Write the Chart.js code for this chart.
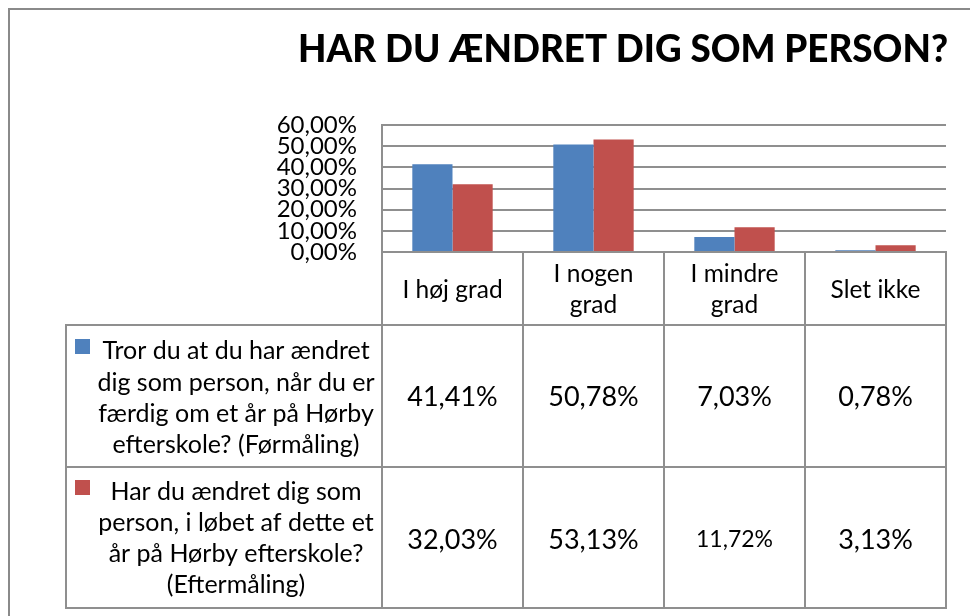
<!DOCTYPE html>
<html>
<head>
<meta charset="utf-8">
<script src="https://cdn.jsdelivr.net/npm/chart.js@4/dist/chart.umd.min.js"></script>
<style>
  html, body { margin: 0; padding: 0; background: #ffffff; }
  #wrap { width: 970px; height: 616px; }
</style>
</head>
<body>
<div id="wrap"><canvas id="c" width="970" height="616"></canvas></div>
<script>
// ---- data ----
const chartTitle = 'HAR DU ÆNDRET DIG SOM PERSON?';
const categories = [['I høj grad'], ['I nogen', 'grad'], ['I mindre', 'grad'], ['Slet ikke']];
const seriesFormaaling = [41.41, 50.78, 7.03, 0.78];
const seriesEftermaaling = [32.03, 53.13, 11.72, 3.13];
const seriesFormaalingName = ['Tror du at du har ændret', 'dig som person, når du er', 'færdig om et år på Hørby', 'efterskole? (Førmåling)'];
const seriesEftermaalingName = ['Har du ændret dig som', 'person, i løbet af dette et', 'år på Hørby efterskole?', '(Eftermåling)'];
const yTickValues = [0, 10, 20, 30, 40, 50, 60];

const FONT = 'Lato, "Open Sans", "DejaVu Sans", sans-serif';
const GRID = '#8f8f8f';
const fmt = v => v.toFixed(2).replace('.', ',') + '%';

const tablePlugin = {
  id: 'dataTable',
  afterDraw(chart) {
    const ctx = chart.ctx;
    const x = chart.scales.x;
    const area = chart.chartArea;
    const nCat = chart.data.labels.length;
    const catW = (area.right - area.left) / nCat;
    const top = area.bottom;
    const headBottom = 325, row1Bottom = 467, row2Bottom = 608, tableLeft = 66;
    ctx.save();
    // outer chart border
    ctx.strokeStyle = '#8a8a8a';
    ctx.lineWidth = 2;
    ctx.beginPath();
    ctx.moveTo(9, 616); ctx.lineTo(9, 9); ctx.lineTo(970, 9);
    ctx.stroke();

    // title
    ctx.fillStyle = '#000';
    ctx.font = '900 37px ' + FONT;
    ctx.textBaseline = 'alphabetic';
    ctx.textAlign = 'left';
    const tw = ctx.measureText(chart.options.plugins.customTitle.text).width;
    const targetW = 650;
    ctx.save();
    ctx.translate(298, 62);
    ctx.scale(targetW / tw, 1);
    ctx.fillText(chart.options.plugins.customTitle.text, 0, 0);
    ctx.restore();

    // table lines
    ctx.strokeStyle = GRID;
    ctx.lineWidth = 2;
    ctx.beginPath();
    for (let i = 0; i <= nCat; i++) {
      const bx = Math.round(area.left + i * catW);
      ctx.moveTo(bx, top); ctx.lineTo(bx, row2Bottom);
    }
    ctx.moveTo(tableLeft, headBottom); ctx.lineTo(tableLeft, row2Bottom);
    [headBottom, row1Bottom, row2Bottom].forEach(yy => {
      ctx.moveTo(tableLeft - 1, yy); ctx.lineTo(area.right + 1, yy);
    });
    ctx.stroke();

    // category headers
    ctx.fillStyle = '#000';
    ctx.textAlign = 'center';
    ctx.textBaseline = 'middle';
    ctx.font = '24.5px ' + FONT;
    chart.data.labels.forEach((lab, i) => {
      const cx = x.getPixelForValue(i);
      const lines = Array.isArray(lab) ? lab : [lab];
      if (lines.length === 1) ctx.fillText(lines[0], cx, 290);
      else { ctx.fillText(lines[0], cx, 274); ctx.fillText(lines[1], cx, 305); }
    });

    // legend rows
    const rowCenters = [397, 540];
    const nameYs = [[351, 383, 414, 445], [492, 523, 554, 585]];
    chart.data.datasets.forEach((ds, r) => {
      ctx.fillStyle = ds.backgroundColor;
      ctx.fillRect(75, nameYs[r][0] - 12, 15, 15);
      ctx.fillStyle = '#000';
      ctx.font = '25px ' + FONT;
      ds.nameLines.forEach((ln, k) => ctx.fillText(ln, 236, nameYs[r][k]));
      ds.data.forEach((v, i) => {
        const cx = x.getPixelForValue(i);
        ctx.font = (v === 11.72 ? '23px ' : '27px ') + FONT;
        ctx.fillText(fmt(v), cx, rowCenters[r]);
      });
    });
    ctx.restore();
  }
};

new Chart(document.getElementById('c'), {
  type: 'bar',
  data: {
    labels: categories,
    datasets: [
      { label: seriesFormaalingName.join(' '), nameLines: seriesFormaalingName, data: seriesFormaaling, backgroundColor: '#4f81bd' },
      { label: seriesEftermaalingName.join(' '), nameLines: seriesEftermaalingName, data: seriesEftermaaling, backgroundColor: '#c0504d' }
    ]
  },
  options: {
    responsive: false,
    animation: false,
    devicePixelRatio: 1,
    layout: { padding: { left: 0, top: 125, right: 24, bottom: 364 } },
    datasets: { bar: { categoryPercentage: 0.57, barPercentage: 1.0 } },
    plugins: {
      legend: { display: false },
      title: { display: false },
      tooltip: { enabled: false },
      customTitle: { text: chartTitle }
    },
    scales: {
      x: {
        grid: { display: false, drawTicks: false },
        border: { display: true, color: GRID, width: 2 },
        ticks: { display: false },
        afterFit(s) { s.height = 0; }
      },
      y: {
        min: 0, max: 60,
        afterBuildTicks(s) { s.ticks = yTickValues.map(v => ({ value: v })); },
        grid: { color: GRID, lineWidth: 2, drawTicks: false },
        border: { display: true, color: GRID, width: 2 },
        ticks: {
          color: '#000',
          autoSkip: false,
          font: { family: FONT, size: 24 },
          padding: 25,
          callback: v => fmt(v)
        },
        afterFit(s) { s.width = 382; }
      }
    }
  },
  plugins: [tablePlugin]
});
</script>
</body>
</html>
